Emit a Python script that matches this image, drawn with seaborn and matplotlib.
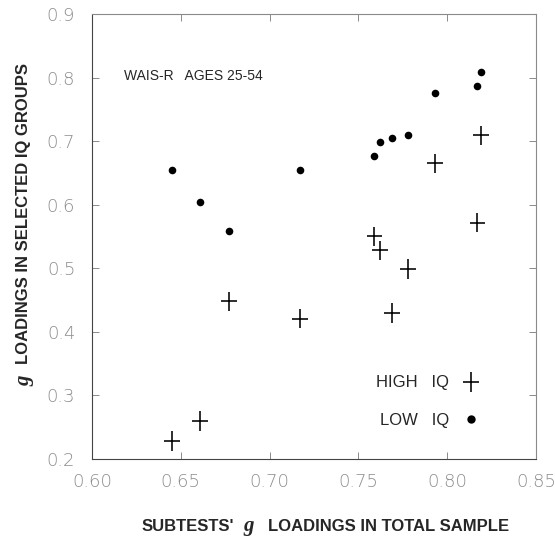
import matplotlib
matplotlib.use("Agg")
import matplotlib.pyplot as plt
from matplotlib.path import Path
from matplotlib.lines import Line2D
import seaborn as sns
import pandas as pd

# WAIS-R subtests, ages 25-54: g loading in the total sample (x)
# and g loading inside the high / low IQ groups (y)
total_g = [0.645, 0.661, 0.677, 0.717, 0.759, 0.762, 0.769, 0.778, 0.793, 0.817, 0.819]
high_iq_g = [0.228, 0.260, 0.448, 0.421, 0.550, 0.528, 0.430, 0.499, 0.665, 0.572, 0.709]
low_iq_g = [0.655, 0.605, 0.559, 0.654, 0.676, 0.699, 0.705, 0.709, 0.775, 0.786, 0.808]

x_ticks = [0.60, 0.65, 0.70, 0.75, 0.80, 0.85]
y_ticks = [0.2, 0.3, 0.4, 0.5, 0.6, 0.7, 0.8, 0.9]

sns.set_style("ticks")
plt.rcParams["font.family"] = ["Liberation Sans", "DejaVu Sans"]

# a slightly taller than wide cross, like the hand drawn one
cross = Path([(-0.8, 0), (0.8, 0), (0, -1), (0, 1)],
             [Path.MOVETO, Path.LINETO, Path.MOVETO, Path.LINETO])

df_high = pd.DataFrame({"total": total_g, "group": high_iq_g})
df_low = pd.DataFrame({"total": total_g, "group": low_iq_g})

W, H = 555, 540
fig = plt.figure(figsize=(W / 100, H / 100), dpi=100)
ax = fig.add_axes([92 / W, 81 / H, 444 / W, 445 / H])

sns.scatterplot(data=df_high, x="total", y="group", ax=ax, marker=cross, s=200,
                color="k", edgecolor="k", facecolor="none", linewidth=1.15, legend=False)
sns.scatterplot(data=df_low, x="total", y="group", ax=ax, marker="o", s=30,
                color="k", edgecolor="k", linewidth=0, legend=False)

ax.set_xlim(0.60, 0.85)
ax.set_ylim(0.2, 0.9)
ax.set_xticks(x_ticks)
ax.set_xticklabels([f"{v:.2f}" for v in x_ticks])
ax.set_yticks(y_ticks)
ax.set_yticklabels([f"{v:.1f}" for v in y_ticks])
ax.set_xlabel("")
ax.set_ylabel("")

ax.tick_params(direction="in", length=5, width=0.6, color="#777777",
               top=True, right=True, labelsize=13, labelcolor="#8c8c8c")
ax.tick_params(axis="x", pad=10)
ax.tick_params(axis="y", pad=12)
for lab in ax.get_xticklabels() + ax.get_yticklabels():
    lab.set_family("DejaVu Sans")
    lab.set_fontweight("light")

for side, sp in ax.spines.items():
    sp.set_linewidth(0.8)
    sp.set_color("#444444" if side in ("left", "bottom") else "#8a8a8a")

fig.text(124 / W, 1 - 76 / H, "WAIS-R   AGES 25-54", fontsize=10,
         ha="left", va="center")

# axis titles: bold sans words with a bigger serif italic "g"
sans = dict(fontsize=12, fontweight="bold", family="Liberation Sans")
serif_g = dict(fontsize=15, fontweight="bold", style="italic", family="Liberation Serif")
renderer = fig.canvas.get_renderer()

x_parts = [("SUBTESTS'", sans, 9), ("g", serif_g, 14), ("LOADINGS IN TOTAL SAMPLE", sans, 0)]
x_pos = 142
for txt, kw, gap in x_parts:
    t = fig.text(x_pos / W, 1 - 531 / H, txt, ha="left", va="baseline", **kw)
    x_pos = t.get_window_extent(renderer).x1 + gap

y_parts = [("g", serif_g, 11), ("LOADINGS IN SELECTED IQ GROUPS", sans, 0)]
y_pos = H - 386
for txt, kw, gap in y_parts:
    t = fig.text(24 / W, y_pos / H, txt, ha="center", va="bottom", rotation=90, **kw)
    y_pos = t.get_window_extent(renderer).y1 + gap

handles = [Line2D([], [], marker=cross, linestyle="none", color="k",
                  markersize=14, markeredgewidth=1.15),
           Line2D([], [], marker="o", linestyle="none", color="k",
                  markersize=6, markeredgewidth=0)]
ax.legend(handles, ["HIGH   IQ", "LOW   IQ"], markerfirst=False, frameon=False,
          loc="center right", bbox_to_anchor=(0.872, 0.129), borderpad=0,
          borderaxespad=0, handlelength=1, handletextpad=0.8, labelspacing=1.35,
          prop={"family": "Liberation Sans", "size": 12})

plt.savefig("out.png", dpi=100)
